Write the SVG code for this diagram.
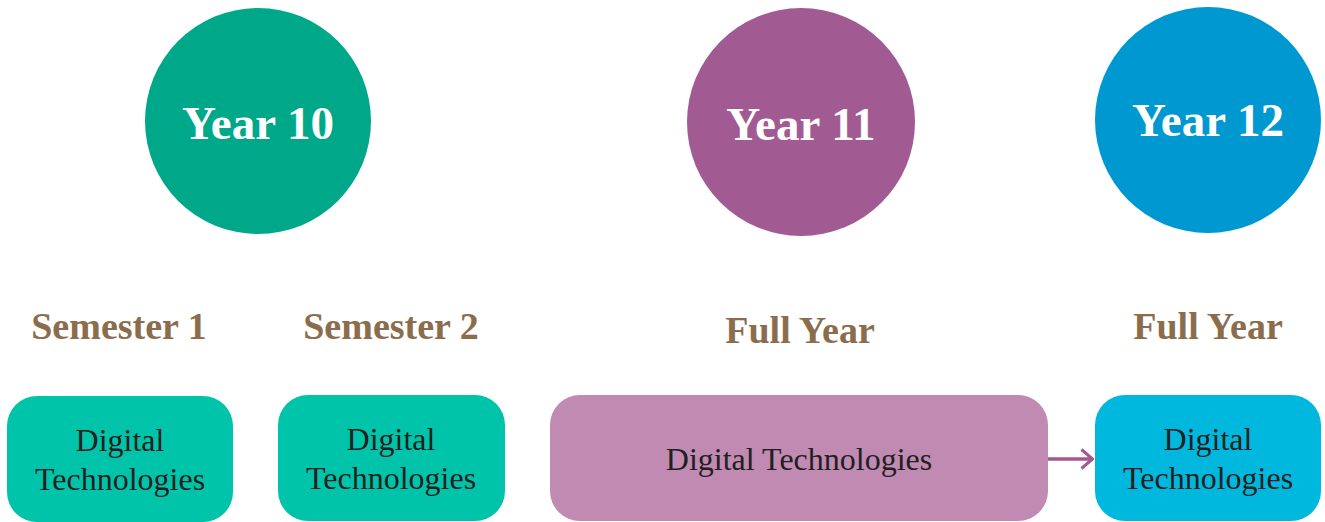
<svg xmlns="http://www.w3.org/2000/svg" width="1325" height="522" viewBox="0 0 1325 522">
<defs>
<style>
.yr{font-family:"Liberation Serif","DejaVu Serif",serif;font-weight:bold;font-size:47px;fill:#ffffff;text-anchor:middle}
.hd{font-family:"Liberation Serif","DejaVu Serif",serif;font-weight:bold;font-size:38px;fill:#8B6D4C;text-anchor:middle}
.dt{font-family:"Liberation Serif","DejaVu Serif",serif;font-size:32px;fill:#231F20;text-anchor:middle}
</style>
<marker id="ah" viewBox="0 0 14 22" refX="13" refY="11" markerWidth="14" markerHeight="22" markerUnits="userSpaceOnUse" orient="auto">
<path d="M1.5,1.5 L12.5,11 L1.5,20.5" fill="none" stroke="#A25A93" stroke-width="3"/>
</marker>
</defs>
<rect width="1325" height="522" fill="#ffffff"/>
<g id="year10">
<circle cx="258" cy="121" r="113" fill="#00A88A"/>
<text class="yr" x="258" y="139">Year 10</text>
</g>
<g id="year11">
<circle cx="801" cy="122" r="114" fill="#A25A93"/>
<text class="yr" x="801" y="140">Year 11</text>
</g>
<g id="year12">
<circle cx="1208" cy="120" r="113" fill="#0098D1"/>
<text class="yr" x="1208" y="136">Year 12</text>
</g>
<g id="sem1"><text class="hd" x="119" y="339">Semester 1</text></g>
<g id="sem2"><text class="hd" x="391" y="339">Semester 2</text></g>
<g id="full11"><text class="hd" x="800" y="343">Full Year</text></g>
<g id="full12"><text class="hd" x="1208" y="339">Full Year</text></g>
<g id="box1">
<rect x="7" y="396" width="226" height="126" rx="30" fill="#00C4A9"/>
<text class="dt" x="120" y="451">Digital</text>
<text class="dt" x="120" y="490">Technologies</text>
</g>
<g id="box2">
<rect x="278" y="395" width="227" height="126" rx="30" fill="#00C4A9"/>
<text class="dt" x="391" y="450">Digital</text>
<text class="dt" x="391" y="489">Technologies</text>
</g>
<g id="box3">
<rect x="550" y="395" width="498" height="126" rx="30" fill="#C08AB3"/>
<text class="dt" x="799" y="470">Digital Technologies</text>
</g>
<g id="box4">
<rect x="1095" y="395" width="226" height="126" rx="30" fill="#00B8DE"/>
<text class="dt" x="1208" y="450">Digital</text>
<text class="dt" x="1208" y="489">Technologies</text>
</g>
<g id="connectors">
<line x1="1048" y1="459" x2="1093" y2="459" stroke="#A25A93" stroke-width="3.5" marker-end="url(#ah)"/>
</g>
</svg>
